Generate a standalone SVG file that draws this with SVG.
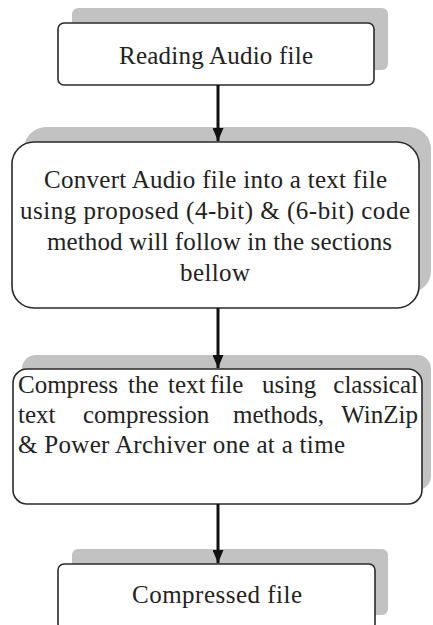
<svg xmlns="http://www.w3.org/2000/svg" width="433" height="625" viewBox="0 0 433 625">
<style>
.shadow{fill:#c2c2c2}
.box{fill:#ffffff;stroke:#2a2a2a;stroke-width:1.6}
.t{font-family:"Liberation Serif","Times New Roman",serif;font-size:25px;fill:#222}
.c{text-anchor:middle}
.conn line{stroke:#111;stroke-width:3}
</style>
<defs>
<marker id="ah" markerWidth="13" markerHeight="11" refX="13" refY="5.5" orient="auto" markerUnits="userSpaceOnUse" viewBox="0 0 13 11">
<path d="M0,0 L13,5.5 L0,11 Z" fill="#111"/>
</marker>
</defs>
<rect width="433" height="625" fill="#ffffff"/>
<g id="node1">
<rect class="shadow" x="72" y="8" width="316" height="62" rx="6"/>
<rect class="box" x="58" y="23" width="316" height="62" rx="6"/>
<text class="t c" x="216" y="64" textLength="194">Reading Audio file</text>
</g>
<g id="node2">
<rect class="shadow" x="24" y="127" width="407" height="166" rx="22"/>
<rect class="box" x="12" y="142" width="407" height="166" rx="22"/>
<text class="t c" x="215.5" y="188" textLength="343">Convert Audio file into a text file</text>
<text class="t c" x="215" y="219" textLength="390">using proposed (4-bit) &amp; (6-bit) code</text>
<text class="t c" x="219.5" y="250" textLength="345">method will follow in the sections</text>
<text class="t c" x="215" y="281" textLength="70">bellow</text>
</g>
<g id="node3">
<rect class="shadow" x="22" y="355" width="409" height="135" rx="14"/>
<rect class="box" x="13" y="369" width="409" height="135" rx="14"/>
<text class="t" y="393"><tspan x="18">Compress</tspan><tspan x="128">the</tspan><tspan x="168">text</tspan><tspan x="210">file</tspan><tspan x="262">using</tspan><tspan x="418" text-anchor="end">classical</tspan></text>
<text class="t" y="423"><tspan x="18">text</tspan><tspan x="83">compression</tspan><tspan x="233">methods,</tspan><tspan x="418" text-anchor="end">WinZip</tspan></text>
<text class="t" x="18" y="453" textLength="327">&amp; Power Archiver one at a time</text>
</g>
<g id="node4">
<rect class="shadow" x="72" y="549" width="316" height="66" rx="6"/>
<rect class="box" x="58" y="564" width="317" height="66" rx="6"/>
<text class="t c" x="217" y="603" textLength="170">Compressed file</text>
</g>
<g class="conn" id="connectors">
<line x1="218" y1="85" x2="218" y2="141" marker-end="url(#ah)"/>
<line x1="218" y1="308" x2="218" y2="368" marker-end="url(#ah)"/>
<line x1="218" y1="504" x2="218" y2="563" marker-end="url(#ah)"/>
</g>
</svg>
